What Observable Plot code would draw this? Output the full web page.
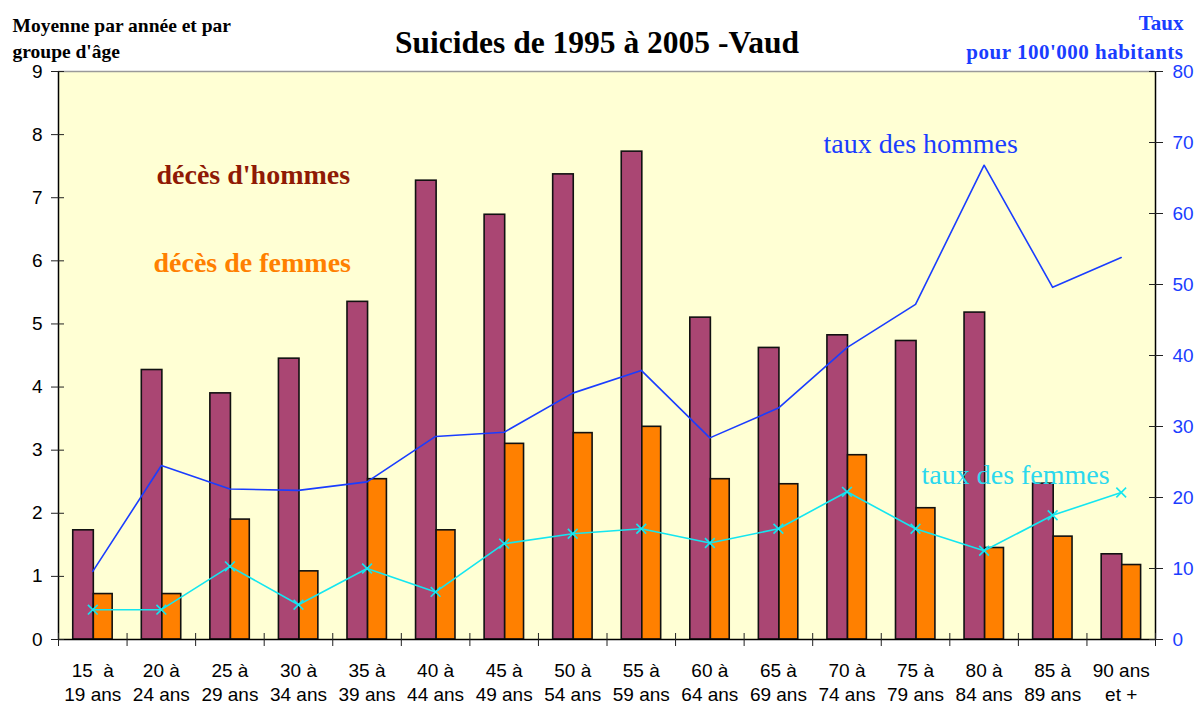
<!DOCTYPE html>
<html>
<head>
<meta charset="utf-8">
<script src="https://cdn.jsdelivr.net/npm/d3@7"></script>
<script src="https://cdn.jsdelivr.net/npm/@observablehq/plot@0.6"></script>
<style>
  html, body { margin: 0; padding: 0; background: #ffffff; }
  #chart svg { display: block; }
</style>
</head>
<body>
<div id="chart"></div>
<script>
// Age groups (two-line labels)
const ageTop = ["15\u00a0 à", "20 à", "25 à", "30 à", "35 à", "40 à", "45 à", "50 à", "55 à", "60 à", "65 à", "70 à", "75 à", "80 à", "85 à", "90 ans"];
const ageBottom = ["19 ans", "24 ans", "29 ans", "34 ans", "39 ans", "44 ans", "49 ans", "54 ans", "59 ans", "64 ans", "69 ans", "74 ans", "79 ans", "84 ans", "89 ans", "et +"];

// Average yearly deaths (left axis)
const decesHommes = [1.73, 4.27, 3.90, 4.45, 5.35, 7.27, 6.73, 7.37, 7.73, 5.10, 4.62, 4.82, 4.73, 5.18, 2.47, 1.35];
const decesFemmes = [0.72, 0.72, 1.90, 1.08, 2.54, 1.73, 3.10, 3.27, 3.37, 2.54, 2.46, 2.92, 2.08, 1.45, 1.63, 1.18];

// Rates per 100'000 inhabitants (right axis)
const tauxHommes = [9.6, 24.5, 21.2, 21.0, 22.2, 28.6, 29.2, 34.7, 37.9, 28.4, 32.6, 41.1, 47.2, 66.8, 49.6, 53.8];
const tauxFemmes = [4.2, 4.2, 10.3, 4.9, 10.0, 6.7, 13.5, 14.9, 15.6, 13.6, 15.6, 20.8, 15.6, 12.5, 17.5, 20.7];

// Axis ticks
const leftTicks = [0, 1, 2, 3, 4, 5, 6, 7, 8, 9];
const rightTicks = [0, 10, 20, 30, 40, 50, 60, 70, 80];

const yMax = 9, rMax = 80;
const k = yMax / rMax;
const idx = d3.range(ageTop.length);

const cMen = "#aa4673", cWomen = "#ff8000", cBlue = "#1a3dff", cCyan = "#14e6f0";
const serif = "Liberation Serif, Times New Roman, serif";

const chart = Plot.plot({
  width: 1196,
  height: 704,
  marginTop: 71,
  marginBottom: 65,
  marginLeft: 58,
  marginRight: 41,
  style: { fontFamily: "Liberation Sans, Arial, sans-serif", background: "#ffffff", color: "#000" },
  x: { type: "linear", domain: [0, idx.length], axis: null },
  y: { domain: [0, yMax], axis: null },
  marks: [
    Plot.frame({ fill: "#ffffd4", stroke: null }),
    Plot.ruleY([yMax], { stroke: "#9a9a9a", strokeWidth: 1.5 }),
    // bars
    Plot.rectY(idx, { x1: i => i + 0.215, x2: i => i + 0.515, y1: 0, y2: i => decesHommes[i], fill: cMen, stroke: "#111", strokeWidth: 1.6 }),
    Plot.rectY(idx, { x1: i => i + 0.515, x2: i => i + 0.79, y1: 0, y2: i => decesFemmes[i], fill: cWomen, stroke: "#111", strokeWidth: 1.6 }),
    // axis lines
    Plot.ruleX([0, idx.length], { stroke: "#000", strokeWidth: 1.5 }),
    Plot.ruleY([0], { stroke: "#000", strokeWidth: 1.5 }),
    // rate lines
    Plot.line(idx, { x: i => i + 0.5, y: i => tauxHommes[i] * k, stroke: cBlue, strokeWidth: 1.6 }),
    Plot.line(idx, { x: i => i + 0.5, y: i => tauxFemmes[i] * k, stroke: cCyan, strokeWidth: 1.6 }),
    Plot.dot(idx, { x: i => i + 0.5, y: i => tauxFemmes[i] * k, symbol: "times", r: 4.5, stroke: cCyan, strokeWidth: 1.6 }),
    // left axis
    Plot.axisY(leftTicks, { anchor: "left", tickSize: 13, dx: 6, tickPadding: 9, fontSize: 19, stroke: "#222", fill: "#000", tickFormat: d => d }),
    // right axis
    Plot.axisY(rightTicks.map(v => v * k), { anchor: "right", tickSize: 14, dx: -7, tickPadding: 10, fontSize: 19, stroke: "#222", fill: cBlue, tickFormat: d => Math.round(d / k) }),
    // x axis ticks between groups
    Plot.axisX(d3.range(idx.length + 1), { anchor: "bottom", tickSize: 13, dy: -6, stroke: "#222", tickFormat: () => "" }),
    // x labels
    Plot.text(idx, { x: i => i + 0.5, text: i => ageTop[i], frameAnchor: "bottom", lineAnchor: "bottom", dy: 37, fontSize: 19, fill: "#000" }),
    Plot.text(idx, { x: i => i + 0.5, text: i => ageBottom[i], frameAnchor: "bottom", lineAnchor: "bottom", dy: 61, fontSize: 19, fill: "#000" }),
    // titles
    Plot.text(["Suicides de 1995 à 2005 -Vaud"], { frameAnchor: "top", lineAnchor: "bottom", dx: -10, dy: -19, fontSize: 31.5, fontWeight: "bold", fontFamily: serif, fill: "#000" }),
    Plot.text(["Moyenne par année et par"], { frameAnchor: "top-left", textAnchor: "start", lineAnchor: "bottom", dx: -46, dy: -40, fontSize: 19.5, fontWeight: "bold", fontFamily: serif, fill: "#000" }),
    Plot.text(["groupe d'âge"], { frameAnchor: "top-left", textAnchor: "start", lineAnchor: "bottom", dx: -46, dy: -14, fontSize: 19.5, fontWeight: "bold", fontFamily: serif, fill: "#000" }),
    Plot.text(["Taux"], { frameAnchor: "top-right", textAnchor: "end", lineAnchor: "bottom", dx: 28, dy: -42, fontSize: 21, fontWeight: "bold", fontFamily: serif, fill: cBlue }),
    Plot.text(["pour 100'000 habitants"], { frameAnchor: "top-right", textAnchor: "end", lineAnchor: "bottom", dx: 28, dy: -13, fontSize: 21, fontWeight: "bold", fontFamily: serif, fill: cBlue }),
    // annotations
    Plot.text(["décès d'hommes"], { frameAnchor: "top-left", textAnchor: "start", lineAnchor: "bottom", dx: 98, dy: 112, fontSize: 28, fontWeight: "bold", fontFamily: serif, fill: "#8f1a05" }),
    Plot.text(["décès de femmes"], { frameAnchor: "top-left", textAnchor: "start", lineAnchor: "bottom", dx: 95, dy: 200, fontSize: 28, fontWeight: "bold", fontFamily: serif, fill: cWomen }),
    Plot.text(["taux des hommes"], { frameAnchor: "top-left", textAnchor: "start", lineAnchor: "bottom", dx: 765, dy: 81, fontSize: 28, fontFamily: serif, fill: cBlue }),
    Plot.text(["taux des femmes"], { frameAnchor: "top-left", textAnchor: "start", lineAnchor: "bottom", dx: 863, dy: 412, fontSize: 28, fontFamily: serif, fill: "#2ad8ee" })
  ]
});
// slightly wider letter spacing for the right-hand unit label, as in the reference
d3.select(chart).selectAll("text").filter(function() { return this.textContent === "pour 100'000 habitants"; })
  .style("letter-spacing", "0.5px");
document.getElementById("chart").appendChild(chart);
</script>
</body>
</html>
